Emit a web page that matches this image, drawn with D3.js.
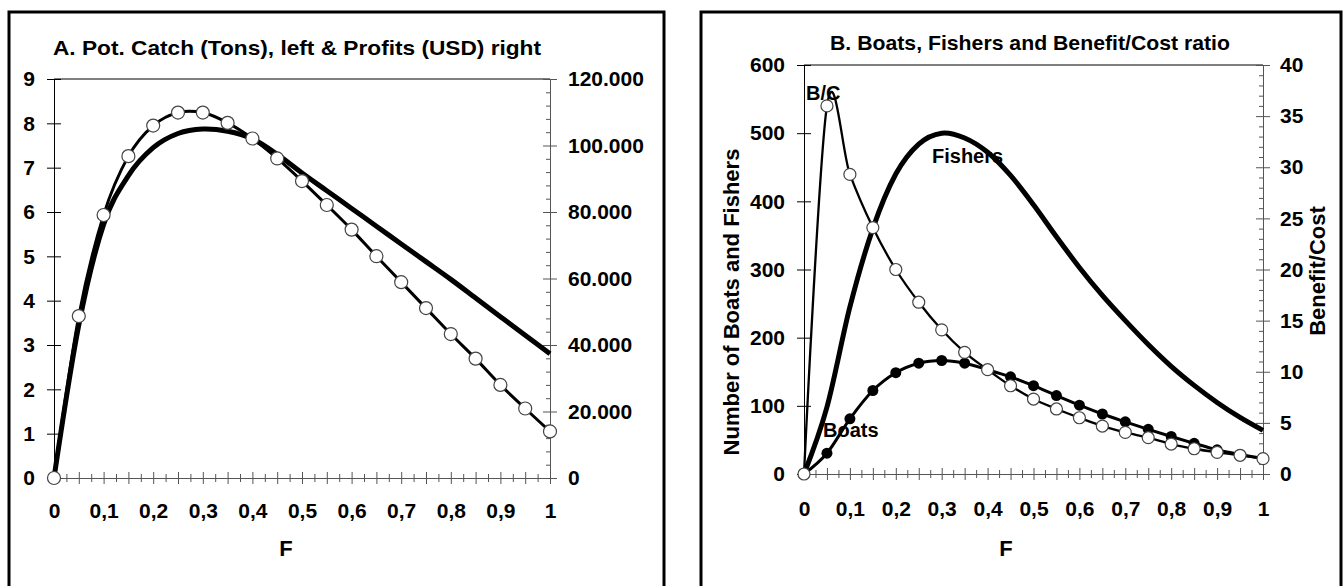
<!DOCTYPE html>
<html>
<head>
<meta charset="utf-8">
<script src="https://cdn.jsdelivr.net/npm/d3@7"></script>
<style>
  body { margin: 0; background: #fff; }
  svg text { font-family: "Liberation Sans", Arial, sans-serif; font-weight: bold; fill: #000; }
</style>
</head>
<body>
<svg id="chart" width="1344" height="586"></svg>
<script>
// fishing mortality F (x axis of both panels)
const fValues = [0, 0.05, 0.1, 0.15, 0.2, 0.25, 0.3, 0.35, 0.4, 0.45, 0.5,
                 0.55, 0.6, 0.65, 0.7, 0.75, 0.8, 0.85, 0.9, 0.95, 1];

// panel A
const catchTons = [0, 3.45, 5.72, 6.82, 7.45, 7.77, 7.87, 7.82, 7.65, 7.30, 6.88,
                   6.48, 6.08, 5.68, 5.28, 4.88, 4.48, 4.06, 3.64, 3.22, 2.80];
const profitsUSD = [0, 48700, 79100, 96800, 106000, 109900, 109900, 106800, 102100, 96100, 89300,
                    82100, 74700, 66700, 58900, 51100, 43300, 35900, 28000, 20900, 14000];

// panel B
const boats = [0, 30.5, 81, 122.5, 148.6, 162.5, 166.5, 162.5, 153, 142.5, 129.5,
               115, 101, 88, 76.5, 65.5, 55, 45, 35.5, 28.5, 22.5];
const fishers = [0, 98, 245, 360, 440, 484, 500, 493, 472, 438, 395,
                 348, 303, 262, 225, 190, 158, 130, 105, 83, 64];
const benefitCost = [0, 36.0, 29.3, 24.1, 20.0, 16.8, 14.1, 11.9, 10.2, 8.63, 7.33,
                     6.36, 5.5, 4.69, 4.07, 3.55, 2.93, 2.47, 2.12, 1.83, 1.5];

// tick labels
const xTickLabels = [0, 0.1, 0.2, 0.3, 0.4, 0.5, 0.6, 0.7, 0.8, 0.9, 1];
const catchTicks = [0, 1, 2, 3, 4, 5, 6, 7, 8, 9];
const profitTicks = [0, 20000, 40000, 60000, 80000, 100000, 120000];
const peopleTicks = [0, 100, 200, 300, 400, 500, 600];
const ratioTicks = [0, 5, 10, 15, 20, 25, 30, 35, 40];

const locale = d3.formatLocale({ decimal: ",", thousands: ".", grouping: [3], currency: ["", ""] });
const fmtX = locale.format(".1~f");
const fmtUSD = locale.format(",.0f");
const fmtInt = d3.format("d");

const svg = d3.select("#chart");

// frames round the two panels
svg.append("rect").attr("x", 9).attr("y", 12).attr("width", 655).attr("height", 590)
    .attr("fill", "none").attr("stroke", "#000").attr("stroke-width", 3);
svg.append("rect").attr("x", 701).attr("y", 12).attr("width", 640).attr("height", 590)
    .attr("fill", "none").attr("stroke", "#000").attr("stroke-width", 3);

function drawXAxis(g, x, y0, pad) {
    const minor = d3.range(0, 41).map(i => i / 40);
    const ax = g.append("g").attr("transform", `translate(0,${y0})`)
        .call(d3.axisBottom(x).tickValues(minor).tickSize(0).tickFormat(""));
    ax.select(".domain").attr("stroke", "#555");
    ax.selectAll(".tick line").attr("stroke", "#555")
        .attr("y1", (d, i) => i % 2 ? -4 : -6)
        .attr("y2", (d, i) => i % 2 ? 4 : 6);
    const lab = g.append("g").attr("transform", `translate(0,${y0})`)
        .call(d3.axisBottom(x).tickValues(xTickLabels).tickFormat(fmtX).tickSize(0).tickPadding(pad));
    lab.select(".domain").remove();
    lab.selectAll("text").style("font-size", "21px");
}

function drawYAxis(g, y, xPos, side, ticks, fmt, minorStep, color, pad) {
    const axisFn = side === "left" ? d3.axisLeft : d3.axisRight;
    if (minorStep) {
        const top = ticks[ticks.length - 1];
        const minor = d3.range(0, Math.round(top / minorStep) + 1).map(i => i * minorStep)
            .filter(v => !ticks.includes(v));
        const mg = g.append("g").attr("transform", `translate(${xPos},0)`)
            .call(axisFn(y).tickValues(minor).tickSize(0).tickFormat(""));
        mg.select(".domain").remove();
        mg.selectAll(".tick line").attr("stroke", color)
            .attr("x1", side === "left" ? 4 : -4).attr("x2", 0);
    }
    const ax = g.append("g").attr("transform", `translate(${xPos},0)`)
        .call(axisFn(y).tickValues(ticks).tickFormat(fmt).tickSize(0).tickPadding(pad));
    ax.select(".domain").attr("stroke", color);
    ax.selectAll(".tick line").attr("stroke", color).attr("x1", -7).attr("x2", 7);
    ax.selectAll("text").style("font-size", "21px");
}

const curve = d3.curveCardinal.tension(0);

// ---------- Panel A ----------
const gA = svg.append("g");
const xA = d3.scaleLinear().domain([0, 1]).range([54, 550]);
const yCatch = d3.scaleLinear().domain([0, 9]).range([478, 79]);
const yProfit = d3.scaleLinear().domain([0, 120000]).range([478, 79]);

gA.append("line").attr("x1", xA(0)).attr("x2", xA(1)).attr("y1", yCatch(9)).attr("y2", yCatch(9))
    .attr("stroke", "#000");
drawYAxis(gA, yCatch, xA(0), "left", catchTicks, fmtInt, 0, "#000", 19);
drawYAxis(gA, yProfit, xA(1), "right", profitTicks, fmtUSD, 4000, "#555", 18);
drawXAxis(gA, xA, yCatch(0), 25);

gA.append("text").attr("x", 53).attr("y", 55).style("font-size", "21px")
    .attr("textLength", 488).attr("lengthAdjust", "spacingAndGlyphs")
    .text("A. Pot. Catch (Tons), left & Profits (USD)  right");
gA.append("text").attr("x", 286).attr("y", 556).attr("text-anchor", "middle")
    .style("font-size", "22px").text("F");

gA.append("path").datum(fValues)
    .attr("fill", "none").attr("stroke", "#000").attr("stroke-width", 5)
    .attr("d", d3.line().curve(curve).x(d => xA(d)).y((d, i) => yCatch(catchTons[i])));
gA.append("path").datum(fValues)
    .attr("fill", "none").attr("stroke", "#000").attr("stroke-width", 3)
    .attr("d", d3.line().curve(curve).x(d => xA(d)).y((d, i) => yProfit(profitsUSD[i])));
gA.selectAll(".pt").data(fValues).join("circle")
    .attr("cx", d => xA(d)).attr("cy", (d, i) => yProfit(profitsUSD[i])).attr("r", 6.5)
    .attr("fill", "#fff").attr("stroke", "#444").attr("stroke-width", 1.2);

// ---------- Panel B ----------
const gB = svg.append("g");
const xB = d3.scaleLinear().domain([0, 1]).range([804, 1263]);
const yPeople = d3.scaleLinear().domain([0, 600]).range([474, 65]);
const yRatio = d3.scaleLinear().domain([0, 40]).range([474, 65]);

gB.append("line").attr("x1", xB(0)).attr("x2", xB(1)).attr("y1", yPeople(600)).attr("y2", yPeople(600))
    .attr("stroke", "#000");
drawYAxis(gB, yPeople, xB(0), "left", peopleTicks, fmtInt, 0, "#000", 19);
drawYAxis(gB, yRatio, xB(1), "right", ratioTicks, fmtInt, 1, "#555", 17);
drawXAxis(gB, xB, yPeople(0), 27);

gB.append("text").attr("x", 830).attr("y", 50).style("font-size", "21px")
    .attr("textLength", 400).attr("lengthAdjust", "spacingAndGlyphs")
    .text("B. Boats, Fishers and  Benefit/Cost ratio");
gB.append("text").attr("x", 1006).attr("y", 556).attr("text-anchor", "middle")
    .style("font-size", "22px").text("F");
gB.append("text").attr("transform", "translate(731,302) rotate(-90)").attr("dy", "0.36em")
    .attr("text-anchor", "middle").style("font-size", "22px").text("Number of Boats and Fishers");
gB.append("text").attr("transform", "translate(1317,271) rotate(-90)").attr("dy", "0.36em")
    .attr("text-anchor", "middle").style("font-size", "22px").text("Benefit/Cost");

// series labels (under the lines, as in the original)
gB.append("text").attr("x", 806).attr("y", 100).style("font-size", "20px").text("B/C");
gB.append("text").attr("x", 932).attr("y", 163).style("font-size", "20px").text("Fishers");
gB.append("text").attr("x", 823).attr("y", 437).style("font-size", "20px").text("Boats");

gB.append("path").datum(fValues)
    .attr("fill", "none").attr("stroke", "#000").attr("stroke-width", 5)
    .attr("d", d3.line().curve(curve).x(d => xB(d)).y((d, i) => yPeople(fishers[i])));
gB.append("path").datum(fValues)
    .attr("fill", "none").attr("stroke", "#000").attr("stroke-width", 3)
    .attr("d", d3.line().curve(curve).x(d => xB(d)).y((d, i) => yPeople(boats[i])));
gB.selectAll(".boat").data(fValues.slice(1)).join("circle")
    .attr("cx", d => xB(d)).attr("cy", (d, i) => yPeople(boats[i + 1])).attr("r", 5.5)
    .attr("fill", "#000");
gB.append("path").datum(fValues)
    .attr("fill", "none").attr("stroke", "#000").attr("stroke-width", 2.3)
    .attr("d", d3.line().curve(curve).x(d => xB(d)).y((d, i) => yRatio(benefitCost[i])));
gB.selectAll(".bc").data(fValues).join("circle")
    .attr("cx", d => xB(d)).attr("cy", (d, i) => yRatio(benefitCost[i])).attr("r", 6)
    .attr("fill", "#fff").attr("stroke", "#444").attr("stroke-width", 1.2);
</script>
</body>
</html>
